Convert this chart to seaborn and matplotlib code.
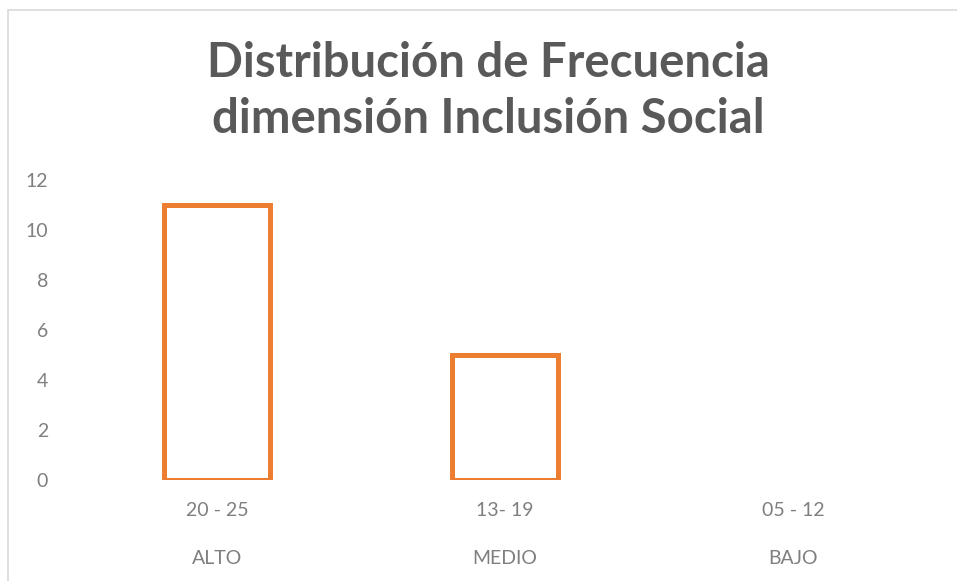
import pandas as pd
import seaborn as sns
import matplotlib.pyplot as plt
from matplotlib.patches import Rectangle

# chart data
rangos = ["20 - 25", "13- 19", "05 - 12"]
niveles = ["ALTO", "MEDIO", "BAJO"]
frecuencia = [11, 5, 0]

df = pd.DataFrame({"rango": rangos, "nivel": niveles, "frecuencia": frecuencia})

sns.set_theme(style="white")
plt.rcParams["font.family"] = ["Lato", "DejaVu Sans"]

fig = plt.figure(figsize=(9.57, 5.81), dpi=100)
ax = fig.add_axes([0.0763, 0.1738, 0.9027, 0.5164])

sns.barplot(data=df, x="rango", y="frecuencia", ax=ax, color="white",
            saturation=1, edgecolor="#ED7D31", linewidth=3.6, width=0.37)

# empty category draws nothing
for p in ax.patches:
    if p.get_height() == 0:
        p.set_visible(False)

ax.set_ylim(0, 12)
ax.set_yticks(range(0, 13, 2))
ax.set_xlim(-0.5, 2.5)
ax.set_xlabel("")
ax.set_ylabel("")
sns.despine(ax=ax, left=True, bottom=True)
ax.tick_params(axis="both", length=0, labelsize=14, labelcolor="#7F7F7F")
ax.tick_params(axis="x", pad=16)
ax.tick_params(axis="y", pad=18)

for i, nivel in enumerate(niveles):
    ax.text(i, -0.26, nivel, transform=ax.get_xaxis_transform(), ha="center",
            va="center", fontsize=14, color="#7F7F7F")

fig.text(0.51, 0.843, "Distribución de Frecuencia\ndimensión Inclusión Social",
         ha="center", va="center", fontsize=34, fontweight="bold",
         color="#595959", linespacing=1.32)

# chart frame (left and top edges visible)
fig.patches.append(Rectangle((8 / 957, -0.1), 1.2, 1.1 - 10 / 581,
                             transform=fig.transFigure, fill=False,
                             edgecolor="#D9D9D9", linewidth=1.2))

fig.savefig("out.png", dpi=100)
